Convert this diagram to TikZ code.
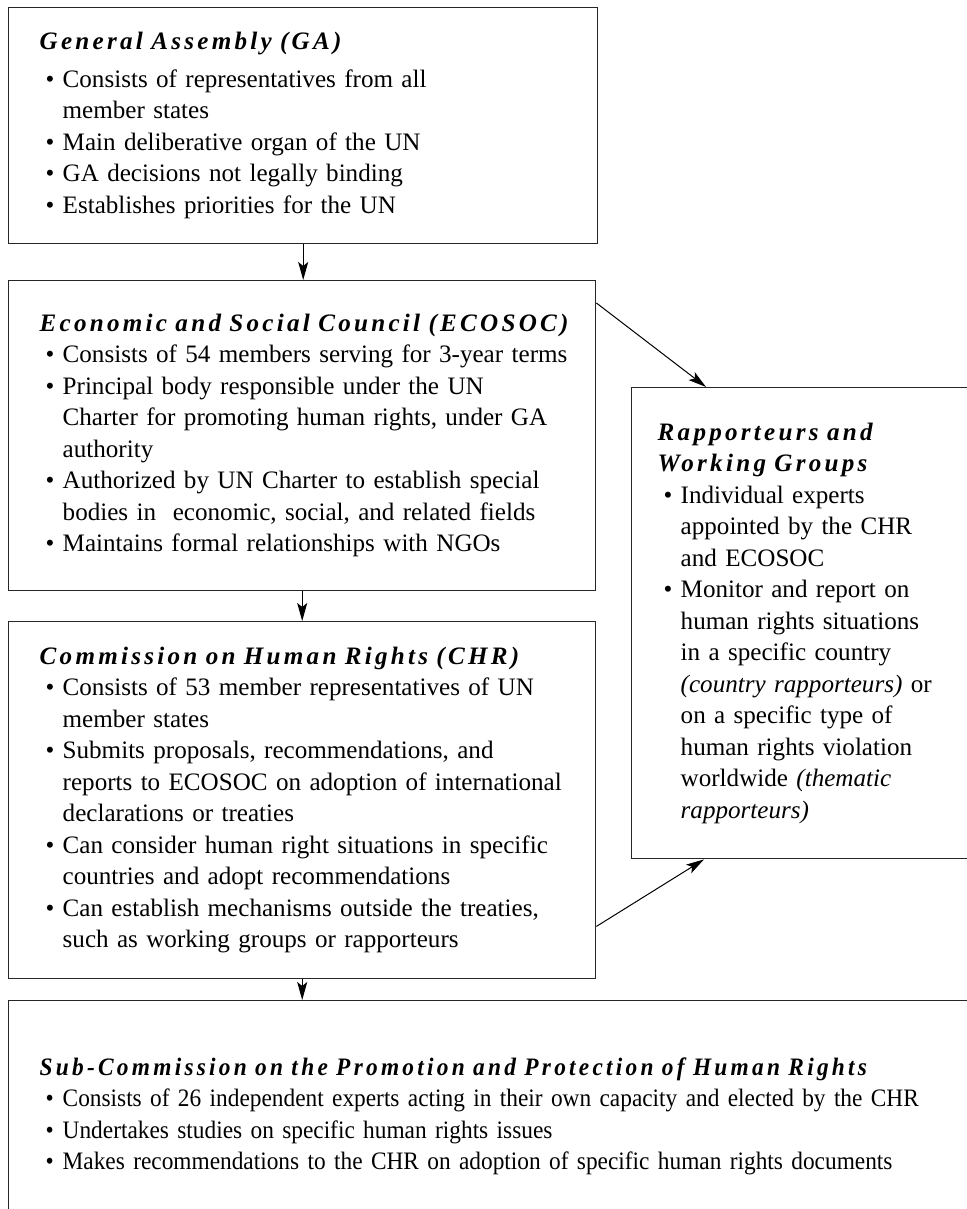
\documentclass[tikz,border=0pt]{standalone}
\usepackage{fontspec}
\setmainfont{Liberation Serif}
\newfontfamily\headfont[LetterSpace=13]{Liberation Serif}
\newfontfamily\narrowfont[FakeStretch=0.93]{Liberation Serif}
\newfontfamily\narrowheadfont[LetterSpace=13, FakeStretch=0.93]{Liberation Serif}
\usetikzlibrary{calc}
\usetikzlibrary{arrows.meta}

\newcommand{\boxhead}[1]{{\headfont\bfseries\itshape #1\par}}
\newcommand{\bitem}{\par\hangindent=11.5pt\hangafter=1\noindent\makebox[11.5pt][l]{\hspace{3pt}\textbullet}}

\begin{document}
\begin{tikzpicture}[x=.5pt, y=-.5pt,
  unbox/.style={draw=black!85, line width=.7pt, anchor=north west, align=left,
    inner xsep=0pt, inner ysep=0pt, font=\fontsize{12.55}{15.75}\selectfont},
  arr/.style={-{Stealth[length=9pt, width=5pt, inset=2pt]}, line width=.5pt}]
  \useasboundingbox (0,0) rectangle (967,1209);
  \clip (0,0) rectangle (967,1209);
  \node[unbox, text width=294.5pt, minimum height=118pt] (ga) at (8,7) {\leftskip=15.5pt
    \boxhead{General Assembly (GA)}\vspace{3pt}
    \bitem Consists of representatives from all\newline member states
    \bitem Main deliberative organ of the UN
    \bitem GA decisions not legally binding
    \bitem Establishes priorities for the UN\par\vspace{5pt}};
  \node[unbox, text width=293.5pt, minimum height=155pt] (ecosoc) at (8,280) {\leftskip=15.5pt
    \boxhead{Economic and Social Council (ECOSOC)}
    \bitem Consists of 54 members serving for 3-year terms
    \bitem Principal body responsible under the UN\newline Charter for promoting human rights, under GA\newline authority
    \bitem Authorized by UN Charter to establish special\newline bodies in\ \ economic, social, and related fields
    \bitem Maintains formal relationships with NGOs\par};
  \node[unbox, text width=293.5pt, minimum height=178.5pt] (chr) at (8,621) {\leftskip=15.5pt
    \boxhead{Commission on Human Rights (CHR)}
    \bitem Consists of 53 member representatives of UN\newline member states
    \bitem Submits proposals, recommendations, and\newline reports to ECOSOC on adoption of international\newline declarations or treaties
    \bitem Can consider human right situations in specific\newline countries and adopt recommendations
    \bitem Can establish mechanisms outside the treaties,\newline such as working groups or rapporteurs\par};
  \node[unbox, text width=200pt, minimum height=235.5pt] (rapp) at (631,387) {\leftskip=13pt
    \boxhead{Rapporteurs and\newline Working Groups}
    \bitem Individual experts\newline appointed by the CHR\newline and ECOSOC
    \bitem Monitor and report on\newline human rights situations\newline in a specific country\newline \textit{(country rapporteurs)} or\newline on a specific type of\newline human rights violation\newline worldwide \textit{(thematic\newline rapporteurs)}\par};
  \node[unbox, text width=495pt, minimum height=115.5pt] (sub) at (8,1000) {\leftskip=15.5pt
    {\narrowheadfont\bfseries\itshape Sub-Commission on the Promotion and Protection of Human Rights\par}
    \narrowfont
    \bitem Consists of 26 independent experts acting in their own capacity and elected by the CHR
    \bitem Undertakes studies on specific human rights issues
    \bitem Makes recommendations to the CHR on adoption of specific human rights documents\par};
  \draw[arr] (ga.south) -- (ga.south |- ecosoc.north);
  \draw[arr] (ecosoc.south) -- (ecosoc.south |- chr.north);
  \draw[arr] (chr.south) -- (chr.south |- sub.north);
  \draw[arr] ($(ecosoc.north east)+(0,23)$) -- ($(rapp.north west)+(75,0)$);
  \draw[arr] ($(chr.south east)+(0,-53)$) -- ($(rapp.south west)+(73,0)$);
\end{tikzpicture}
\end{document}
